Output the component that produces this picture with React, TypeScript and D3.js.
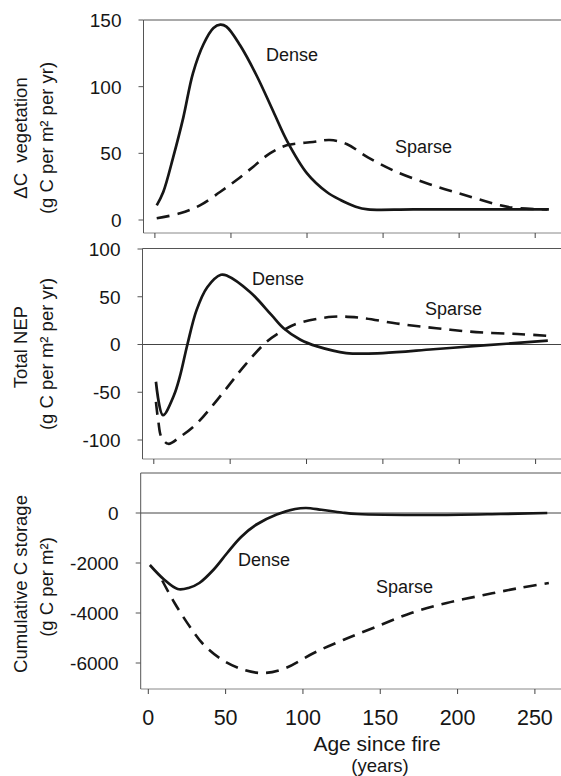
import React from 'react';
import * as d3 from 'd3';

// x axis (shared)
const ageTicks = [0, 50, 100, 150, 200, 250];

// panel 1: change in vegetation C
const vegTicks = [0, 50, 100, 150];
const vegDense: [number, number][] = [
  [1.2, 11], [5.5, 21], [12, 47], [18.7, 77], [25, 110], [32, 132], [38.5, 144],
  [43, 146.5], [47, 145], [56, 131], [67, 108], [78, 81], [87, 59], [100, 35],
  [113, 21], [122, 15], [132, 10], [140, 8], [170, 8], [259, 8],
];
const vegSparse: [number, number][] = [
  [1.2, 1.3], [16.5, 5], [29.6, 11], [42.8, 21], [53.7, 30], [64.7, 40],
  [75.6, 50], [86.6, 56], [104, 58.5], [115, 60], [126, 57], [140, 47],
  [157, 37], [180, 27], [203, 19], [227, 11], [237, 9], [258, 8],
];

// panel 2: total NEP
const nepTicks = [-100, -50, 0, 50, 100];
const nepDense: [number, number][] = [
  [1.4, -39], [6, -74], [13, -54], [17, -34], [22, 0], [28, 36], [35, 60],
  [44, 73], [48, 72], [63, 55], [77, 31], [85, 17], [96, 5], [107, -2],
  [126, -9], [150, -9], [183, -5], [216, -1], [258, 4],
];
const nepSparse: [number, number][] = [
  [1.4, -60], [3, -81], [5, -97], [9.5, -104], [17, -97], [28, -83], [39, -63],
  [50, -41], [60, -21], [74, 3], [85, 15], [94, 22], [117, 29], [135, 28],
  [159, 22], [185, 17], [211, 13], [238, 11], [259, 9],
];

// panel 3: cumulative C storage
const cumTicks = [-6000, -4000, -2000, 0];
const cumDense: [number, number][] = [
  [1, -2080], [10, -2650], [19, -3040], [26, -3000], [33, -2800], [42, -2280],
  [51, -1600], [60, -960], [70, -460], [83, -60], [95, 160], [102, 200],
  [112, 130], [125, 20], [135, -40], [182, -80], [228, -40], [258, 0],
];
const cumSparse: [number, number][] = [
  [9, -2700], [17, -3600], [27, -4560], [36, -5280], [48, -5880], [62, -6280],
  [75, -6400], [89, -6200], [107, -5600], [126, -5080], [147, -4560],
  [170, -4000], [193, -3600], [217, -3280], [240, -3000], [259, -2800],
];

const font = '"Liberation Sans", Arial, sans-serif';
const ink = '#161616';

const panels = [
  {
    ticks: vegTicks, dense: vegDense, sparse: vegSparse,
    yDomain: [0, 150], yRange: [220, 20], xRange: [154.9, 535.2],
    top: 20, bottom: 233, axisX: 143.5, zero: false,
    title: ['ΔC  vegetation', '(g C per m² per yr)'], titleY: [138, 138],
    denseLabel: [266, 61], sparseLabel: [395, 153],
  },
  {
    ticks: nepTicks, dense: nepDense, sparse: nepSparse,
    yDomain: [-100, 100], yRange: [440, 249], xRange: [153.8, 535.6],
    top: 248.5, bottom: 459, axisX: 142.5, zero: true,
    title: ['Total NEP', '(g C per m² per yr)'], titleY: [347, 354],
    denseLabel: [252, 285], sparseLabel: [425, 315],
  },
  {
    ticks: cumTicks, dense: cumDense, sparse: cumSparse,
    yDomain: [-6000, 0], yRange: [663, 513], xRange: [148.3, 534.9],
    top: 473, bottom: 689, axisX: 140.7, zero: true,
    title: ['Cumulative C storage', '(g C per m²)'], titleY: [584, 587],
    denseLabel: [238, 566], sparseLabel: [376, 593],
  },
];

const Panel = ({ p, last }: { p: any; last: boolean }) => {
  const x = d3.scaleLinear().domain([0, 250]).range(p.xRange);
  const y = d3.scaleLinear().domain(p.yDomain).range(p.yRange);
  const line = d3
    .line<[number, number]>()
    .x(d => x(d[0]))
    .y(d => y(d[1]))
    .curve(d3.curveCatmullRom.alpha(0.5));

  return (
    <g>
      {/* frame */}
      <line x1={p.axisX} x2={561} y1={p.top} y2={p.top} stroke="#555" strokeWidth={1} />
      <line x1={p.axisX} x2={561} y1={p.bottom} y2={p.bottom} stroke="#888" strokeWidth={1} />
      <line x1={p.axisX} x2={p.axisX} y1={p.top} y2={p.bottom} stroke="#555" strokeWidth={1} />
      {p.zero && (
        <line x1={p.axisX} x2={561} y1={y(0)} y2={y(0)} stroke="#444" strokeWidth={1} />
      )}

      {/* y ticks */}
      {p.ticks.map((t: number) => (
        <g key={t}>
          <line x1={p.axisX - 5} x2={p.axisX} y1={y(t)} y2={y(t)} stroke="#555" />
          <text
            x={p.axisX - 22}
            y={y(t)}
            dy="0.36em"
            textAnchor="end"
            fontSize={19}
            fontFamily={font}
            fill={ink}
          >
            {t}
          </text>
        </g>
      ))}

      {/* x ticks */}
      {ageTicks.map(t => (
        <g key={t}>
          <line x1={x(t)} x2={x(t)} y1={p.bottom} y2={p.bottom + 5} stroke="#444" />
          {last && (
            <text
              x={x(t)}
              y={725}
              textAnchor="middle"
              fontSize={21.5}
              fontFamily={font}
              fill={ink}
            >
              {t}
            </text>
          )}
        </g>
      ))}

      {/* curves */}
      <path d={line(p.dense) || ''} fill="none" stroke={ink} strokeWidth={2.7} />
      <path
        d={line(p.sparse) || ''}
        fill="none"
        stroke={ink}
        strokeWidth={2.6}
        strokeDasharray="13 8"
      />

      {/* series labels */}
      <text x={p.denseLabel[0]} y={p.denseLabel[1]} fontSize={18} fontFamily={font} fill={ink}>
        Dense
      </text>
      <text x={p.sparseLabel[0]} y={p.sparseLabel[1]} fontSize={18} fontFamily={font} fill={ink}>
        Sparse
      </text>

      {/* y axis title */}
      {p.title.map((s: string, i: number) => (
        <text
          key={i}
          transform={`translate(${i === 0 ? 27 : 53},${p.titleY[i]}) rotate(-90)`}
          textAnchor="middle"
          fontSize={18.5}
          fontFamily={font}
          fill={ink}
          style={{ whiteSpace: 'pre' }}
        >
          {s}
        </text>
      ))}
    </g>
  );
};

export default function App() {
  return (
    <svg
      width={561}
      height={776}
      style={{ position: 'absolute', left: 0, top: 0, background: '#fff' }}
    >
      <rect width={561} height={776} fill="#fff" />
      {panels.map((p, i) => (
        <Panel key={i} p={p} last={i === panels.length - 1} />
      ))}
      <text x={377} y={751} textAnchor="middle" fontSize={21} fontFamily={font} fill={ink}>
        Age since fire
      </text>
      <text x={380} y={772} textAnchor="middle" fontSize={18.5} fontFamily={font} fill={ink}>
        (years)
      </text>
    </svg>
  );
}
